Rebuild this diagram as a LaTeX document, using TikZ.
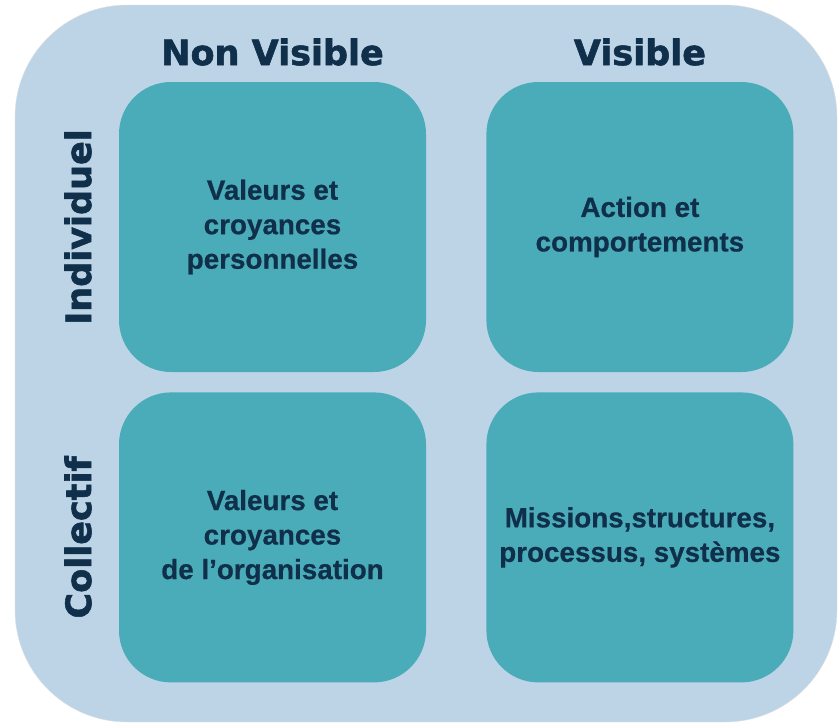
\documentclass[tikz,border=0pt]{standalone}
\usepackage{fontspec}
\setmainfont{Liberation Sans}[BoldFeatures={FakeBold=0.6}]
\newfontfamily\headfont{DejaVu Sans}[BoldFeatures={FakeBold=1.6}]
\usetikzlibrary{positioning}
\usepackage{xcolor}

\definecolor{bgblue}{RGB}{189,212,231}
\definecolor{quadteal}{RGB}{75,172,185}
\definecolor{navy}{RGB}{16,47,74}

\tikzset{
    quadbox/.style={fill=quadteal, rounded corners=52pt, minimum width=307pt, minimum height=290pt,
        inner sep=0pt, align=center, text=navy, font=\bfseries\fontsize{27.8}{34.5}\selectfont},
    headlabel/.style={inner sep=0pt, text=navy, font=\headfont\bfseries\fontsize{35}{40}\selectfont},
    sidelabel/.style={headlabel, rotate=90}
}

\begin{document}
\begin{tikzpicture}[x=1pt, y=-1pt]
            \useasboundingbox (0,0) rectangle (838,724);
            \draw[fill=bgblue, draw=black!12, rounded corners=112pt] (15,5) rectangle (837,722);
            \node[quadbox] (ind) at (272.5,227) {Valeurs et\\croyances\\personnelles};
            \node[quadbox, right=60pt of ind] (act) {Action et\\comportements};
            \node[quadbox, below=20pt of ind] (org) {Valeurs et\\croyances\\de l’organisation};
            \node[quadbox, below=20pt of act] (sys) {Missions,structures,\\processus, systèmes};
            \node[headlabel, above=16pt of ind] (hnv) {Non Visible};
            \node[headlabel, above=16pt of act] (hv) {Visible};
            \node[sidelabel, left=27pt of ind, anchor=south] (lind) {Individuel};
            \node[sidelabel, left=27pt of org, anchor=south] (lcol) {Collectif};
        \end{tikzpicture}
\end{document}
